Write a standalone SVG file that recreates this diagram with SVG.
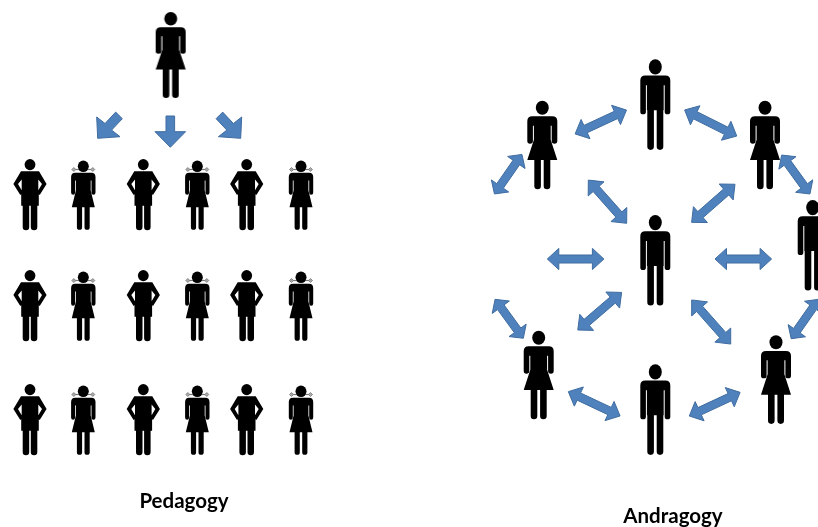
<svg xmlns="http://www.w3.org/2000/svg" width="818" height="527" viewBox="0 0 818 527">
<style>
.b{fill:#000}
.a{fill:#4f81bd;stroke:#3f6c9f;stroke-width:1;vector-effect:non-scaling-stroke}
.t{font-family:"Lato","Liberation Sans",sans-serif;font-weight:700;font-size:20.5px;fill:#000}
.p{stroke:#777;stroke-width:1.2;fill:none}
</style>
<defs>
<filter id="s" x="-5%" y="-5%" width="110%" height="110%"><feGaussianBlur stdDeviation="0.45"/></filter>
<g id="man"><ellipse cx="0" cy="7.6" rx="6.5" ry="7.6" class="b"/><path class="b" d="M-10,16.3H10Q15,16.3 15,21.3V52.4Q15,55 12.2,55Q9.4,55 9.4,52.4V26H8.4V51H8V87.3a3.3,3.3 0 0 1 -6.6,0V51H-1.4V87.3a3.3,3.3 0 0 1 -6.6,0V51H-8.4V26H-9.4V52.4Q-9.4,55 -12.2,55Q-15,55 -15,52.4V21.3Q-15,16.3 -10,16.3Z"/></g>
<g id="woman"><ellipse cx="0" cy="7" rx="6.5" ry="7" class="b"/><path class="b" d="M-10,15.6H10Q15,15.6 15,20.6V40.4Q15,43 12.2,43Q9.4,43 9.4,40.4V25H8.4V39L15,59.4H8V85.3a3.3,3.3 0 0 1 -6.6,0V59.4H-1.4V85.3a3.3,3.3 0 0 1 -6.6,0V59.4H-15L-8.4,39V25H-9.4V40.4Q-9.4,43 -12.2,43Q-15,43 -15,40.4V20.6Q-15,15.6 -10,15.6Z"/></g>
<g id="sman"><ellipse cx="0" cy="5.6" rx="5.4" ry="5.6" class="b"/><path class="b" d="M-9,12.3H9L16.6,25L9.7,36L7,33.6L12,25L8.3,20.5V31H8.8V46.7H7.3V68a3.25,3.25 0 0 1 -6.5,0V46.7H-.8V68a3.25,3.25 0 0 1 -6.5,0V46.7H-8.8V31H-8.3V20.5L-12,25L-7,33.6L-9.7,36L-16.6,25Z"/></g>
<g id="swoman"><path class="p" d="M-10,9H10"/><path d="M-11.5,9l2,-2l2,2l-2,2ZM11.5,9l-2,-2l-2,2l2,2Z" fill="#aaa" stroke="#777" stroke-width=".8"/><ellipse cx="0" cy="5.8" rx="5.5" ry="5.8" class="b"/><path class="b" d="M-8,12.3H8Q12.2,12.3 12.2,16.6V32Q12.2,34.2 10.2,34.2Q8.2,34.2 8.2,32V20H7.4V30L11.5,46.7H6.4V66.7a2.6,2.6 0 0 1 -5.2,0V46.7H-1.2V66.7a2.6,2.6 0 0 1 -5.2,0V46.7H-11.5L-7.4,30V20H-8.2V32Q-8.2,34.2 -10.2,34.2Q-12.2,34.2 -12.2,32V16.6Q-12.2,12.3 -8,12.3Z"/></g>
<path id="dbl" class="a" d="M-28.3,0L-16.8,-10.6V-4H16.8V-10.6L28.3,0L16.8,10.6V4H-16.8V10.6Z"/>
</defs>
<rect width="818" height="527" fill="#fff"/>
<g filter="url(#s)">
<g id="connectors">
<path id="ped-down" class="a" d="M166,116H174.6V131.7H185.6L170.3,147.3L155,131.7H166Z"/>
<path id="ped-left" class="a" d="M97.7,138.3L96.7,117L105,123.5L115.7,112.1L122.3,118.7L111.6,130.1L120,136.7Z"/>
<path id="ped-right" class="a" d="M240.7,138.3L241.7,117L233.4,123.5L222.7,112.1L216.1,118.7L226.8,130.1L218.4,136.7Z"/>
<use href="#dbl" transform="translate(600.8,122) rotate(-24.9) scale(1,1)"/>
<use href="#dbl" transform="translate(710.7,123) rotate(26.6) scale(1.03,1)"/>
<use href="#dbl" transform="translate(508.2,174.2) rotate(-55.2) scale(.85,1)"/>
<use href="#dbl" transform="translate(795.8,174.5) rotate(54) scale(.85,1)"/>
<use href="#dbl" transform="translate(607.5,201.7) rotate(48.4) scale(1.02,1)"/>
<use href="#dbl" transform="translate(713.3,203.3) rotate(-41.3) scale(1.02,1)"/>
<use href="#dbl" transform="translate(575.6,259)"/>
<use href="#dbl" transform="translate(743.3,259)"/>
<use href="#dbl" transform="translate(509.2,318.8) rotate(54) scale(.85,1)"/>
<use href="#dbl" transform="translate(599.7,311.2) rotate(-40.6) scale(1.02,1)"/>
<use href="#dbl" transform="translate(711.2,322) rotate(48.5) scale(1.04,1)"/>
<use href="#dbl" transform="translate(805,319) rotate(-55) scale(.85,1)"/>
<use href="#dbl" transform="translate(594.2,403.8) rotate(25.2) scale(1.01,1)"/>
<use href="#dbl" transform="translate(714.7,404.2) rotate(-25) scale(.99,1)"/>
</g>
<g id="teacher"><use href="#woman" transform="translate(170.7,12) scale(1,.97)"/></g>
<g id="s1"><use href="#sman" x="30" y="159"/></g>
<g id="s2"><use href="#swoman" x="83.3" y="160.5"/></g>
<g id="s3"><use href="#sman" x="143.3" y="159"/></g>
<g id="s4"><use href="#swoman" x="197.3" y="160.5"/></g>
<g id="s5"><use href="#sman" x="246.7" y="159"/></g>
<g id="s6"><use href="#swoman" x="301" y="160.5"/></g>
<g id="s7"><use href="#sman" x="30" y="270"/></g>
<g id="s8"><use href="#swoman" x="83.3" y="271.5"/></g>
<g id="s9"><use href="#sman" x="143.3" y="270"/></g>
<g id="s10"><use href="#swoman" x="197.3" y="271.5"/></g>
<g id="s11"><use href="#sman" x="246.7" y="270"/></g>
<g id="s12"><use href="#swoman" x="301" y="271.5"/></g>
<g id="s13"><use href="#sman" x="30" y="384"/></g>
<g id="s14"><use href="#swoman" x="83.3" y="385.5"/></g>
<g id="s15"><use href="#sman" x="143.3" y="384"/></g>
<g id="s16"><use href="#swoman" x="197.3" y="385.5"/></g>
<g id="s17"><use href="#sman" x="246.7" y="384"/></g>
<g id="s18"><use href="#swoman" x="301" y="385.5"/></g>
<g id="a1"><use href="#man" x="655.3" y="59.3"/></g>
<g id="a2"><use href="#man" x="655.3" y="215"/></g>
<g id="a3"><use href="#man" x="655.3" y="364.3"/></g>
<g id="a4"><use href="#man" x="812.7" y="200"/></g>
<g id="a5"><use href="#woman" x="542.3" y="100.7"/></g>
<g id="a6"><use href="#woman" x="765" y="100.7"/></g>
<g id="a7"><use href="#woman" x="538.7" y="330.7"/></g>
<g id="a8"><use href="#woman" x="776" y="335.3"/></g>
<text class="t" x="184" y="508" text-anchor="middle">Pedagogy</text>
<text class="t" x="673" y="522.5" text-anchor="middle">Andragogy</text>
</g>
</svg>
